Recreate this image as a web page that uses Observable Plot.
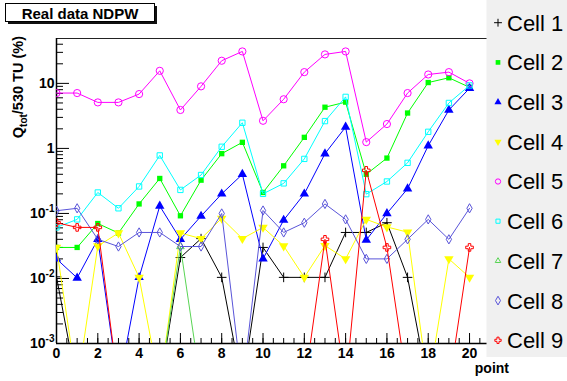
<!DOCTYPE html>
<html><head><meta charset="utf-8">
<script src="https://cdn.jsdelivr.net/npm/d3@7"></script>
<script src="https://cdn.jsdelivr.net/npm/@observablehq/plot@0.6"></script>
<style>body{margin:0;background:#fff}#chart{position:relative;width:567px;height:381px}</style>
</head><body><div id="chart"></div>
<script>
// ---- data ----
const points = [0,1,2,3,4,5,6,7,8,9,10,11,12,13,14,15,16,17,18,19,20];
const cellNames = ["Cell 1","Cell 2","Cell 3","Cell 4","Cell 5","Cell 6","Cell 7","Cell 8","Cell 9"];
const cell1 = [0.0106,0,0,0,0,0,0.021,0.041,0.0104,0,0.030,0.0104,0.0104,0.0104,0.051,0.051,0.072,0.0104,0,0,0];
const cell2 = [0.030,0.030,0.070,0.050,0.14,0.345,0.092,0.325,0.83,1.24,0.21,0.54,1.48,4.3,5.15,0.40,0.71,3.5,10.3,12.2,8.7];
const cell3 = [0.020,0.0102,0.040,0,0.0104,0.13,0.040,0.091,0.20,0.40,0.020,0.079,0.20,0.83,2.13,0.039,0.10,0.24,1.1,3.9,8.4];
const cell4 = [0.030,0,0.0315,0.050,0.0104,0,0.050,0.041,0.084,0.041,0.061,0.0316,0.0104,0.032,0.020,0.081,0.062,0.0515,0,0.020,0.0104];
const cell5 = [7.1,7.1,5.1,5.1,6.85,15.6,3.9,9.0,22.3,31,2.66,5.7,14.9,27.9,31,1.25,2.37,7.1,13.7,14.9,10.0];
const cell6 = [0.061,0.081,0.21,0.12,0.26,0.78,0.23,0.39,1.06,2.48,0.20,0.29,0.69,2.63,6.2,0.198,0.31,0.60,1.8,5.0,9.3];
const cell7 = [0,0,0,0,0,0,0.031,0,0,0,0,0,0,0,0,0,0,0,0,0,0];
const cell8 = [0.11,0.12,0.040,0.031,0.051,0.051,0.031,0.031,0.10,0,0.111,0.051,0.072,0.14,0.081,0.020,0.020,0.040,0.081,0.040,0.12];
const cell9 = [0.072,0.061,0.061,0,0,0,0,0,0,0,0,0,0,0.040,0,0.46,0.030,0,0,0,0.030];
const cellValues = [cell1,cell2,cell3,cell4,cell5,cell6,cell7,cell8,cell9];
const xTickLabels = [0,2,4,6,8,10,12,14,16,18,20];
const yTickLabels = ["10^-3","10^-2","10^-1","1","10"];
const yTickValues = [1e-3,1e-2,1e-1,1,10];

// ---- styles ----
const colors  = ["#000000","#00ff00","#0000ff","#ffff00","#ff00ff","#00ffff","#59d454","#5954d9","#ff0000"];
const symbols = ["plus","square","triangle","triangle","circle","square2","triangle2","diamond","cross"];
const filled  = [false,true,true,true,false,false,false,false,false];
const rotates = [0,0,0,180,0,0,0,0,0];
const radii   = [3.2,3.0,3.5,3.5,3.6,3.4,3.6,2.8,3.2];
const FONT = "'Liberation Sans', Arial, sans-serif";

const zeroFloor = 2.2e-4; // where ROOT sends empty (0) points on a log axis
const rows = cellNames.flatMap((c, k) => cellValues[k].map((v, i) => ({cell: c, k, point: points[i], value: v, plotted: v > 0 ? v : zeroFloor})));

const W = 567, H = 381, mL = 56, mR = 80, mT = 38, mB = 38;
const fw = W - mL - mR, fh = H - mT - mB;

const xMinor = []; for (let t = 0; t <= 20.5; t += 0.5) xMinor.push(t);
const yMinor = []; for (const d of [1e-3,1e-2,1e-1,1,10]) for (let m = 2; m <= 9; m++) if (d*m < 49) yMinor.push(d*m);

const marks = [
  Plot.frame({stroke: "#222", strokeWidth: 1}),
  Plot.ruleX(xMinor, {x: d => d, insetTop: fh - 5, stroke: "#000"}),
  Plot.ruleX(xTickLabels, {x: d => d, insetTop: fh - 10, stroke: "#000"}),
  Plot.ruleY(yMinor, {y: d => d, insetRight: fw - 7, stroke: "#000"}),
  Plot.ruleY(yTickValues, {y: d => d, insetRight: fw - 13, stroke: "#000"}),
  Plot.ruleY([1e-3], {stroke: "#000", strokeWidth: 1.5}),
  Plot.ruleX([0], {stroke: "#000", strokeWidth: 1.5}),
  Plot.axisX({ticks: xTickLabels, tickSize: 0, tickPadding: 5, fontSize: 14, fontWeight: "bold", label: null}),
  Plot.axisY({ticks: yTickValues, tickSize: 0, tickPadding: 2, tickFormat: d => yTickLabels[yTickValues.indexOf(d)], fontSize: 14, fontWeight: "bold", label: null})
];
cellNames.forEach((c, k) => {
  const data = rows.filter(d => d.k === k);
  marks.push(Plot.line(data, {x: "point", y: "plotted", stroke: colors[k], strokeWidth: 1, clip: true}));
  marks.push(Plot.dot(data.filter(d => d.value > 0), {
    x: "point", y: "value", symbol: symbols[k], r: radii[k], rotate: rotates[k],
    fill: filled[k] ? colors[k] : "none", stroke: filled[k] ? "none" : colors[k], strokeWidth: 1, clip: true
  }));
});

const plot = Plot.plot({
  width: W, height: H, marginLeft: mL, marginRight: mR, marginTop: mT, marginBottom: mB,
  style: {fontFamily: FONT, background: "#fff", color: "#000"},
  x: {type: "linear", domain: [0, 20.87]},
  y: {type: "log", domain: [1e-3, 49]},
  marks
});
document.getElementById("chart").appendChild(plot);

const svg = d3.select(plot);
// superscripts on y tick labels
svg.selectAll('g[aria-label="y-axis tick label"] text').each(function() {
  const t = d3.select(this); const s = t.text();
  if (s.includes("^")) {
    const [base, exp] = s.split("^");
    t.text(base);
    t.append("tspan").attr("dy", -6).attr("font-size", 10).text(exp);
  }
});

// y axis title
const yt = svg.append("text").attr("transform", "translate(23,36) rotate(-90)")
  .attr("text-anchor", "end").attr("font-weight", "bold").attr("font-size", 14.5)
  .attr("font-family", FONT);
yt.append("tspan").text("Q");
yt.append("tspan").attr("dy", 4).attr("font-size", 10).text("tot");
yt.append("tspan").attr("dy", -4).text("/530 TU (%)");

// x axis title
svg.append("text").attr("x", 509).attr("y", 373).attr("text-anchor", "end")
  .attr("font-weight", "bold").attr("font-size", 14)
  .attr("font-family", FONT).text("point");

// title box
const tb = svg.append("g");
tb.append("rect").attr("x", 8).attr("y", 6).attr("width", 149).attr("height", 18).style("fill", "#111");
tb.append("rect").attr("x", 5.5).attr("y", 3.5).attr("width", 149).attr("height", 18).style("fill", "#fff").style("stroke", "#000");
tb.append("text").attr("x", 80).attr("y", 18.5).attr("text-anchor", "middle")
  .attr("font-weight", "bold").attr("font-size", 15)
  .attr("font-family", FONT).text("Real data NDPW");

// legend
const lg = svg.append("g");
lg.append("rect").attr("x", 486.5).attr("y", 0).attr("width", 81).attr("height", 357).style("fill", "#f0f0f0").style("stroke", "none");
const symMap = {plus: d3.symbolPlus, square: d3.symbolSquare, triangle: d3.symbolTriangle, circle: d3.symbolCircle,
  square2: d3.symbolSquare2, triangle2: d3.symbolTriangle2, diamond: d3.symbolDiamond, cross: d3.symbolCross};
cellNames.forEach((c, k) => {
  const y = 22.7 + k * 39.7;
  lg.append("path").attr("d", d3.symbol(symMap[symbols[k]], 22)())
    .attr("transform", `translate(498,${y}) rotate(${rotates[k]})`)
    .style("fill", filled[k] ? colors[k] : "none").style("stroke", filled[k] ? "none" : colors[k]);
  lg.append("text").attr("x", 507).attr("y", y).attr("dy", "0.36em").attr("text-anchor", "start")
    .attr("font-size", 22).attr("font-family", FONT).style("fill", "#000").text(c);
});
</script>
</body></html>
